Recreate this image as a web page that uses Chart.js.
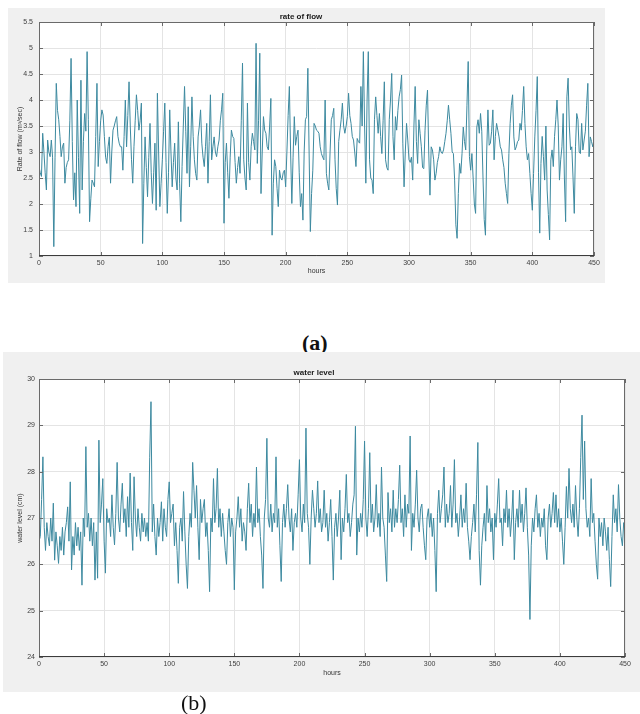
<!DOCTYPE html>
<html>
<head>
<meta charset="utf-8">
<title>rate of flow / water level</title>
<script src="https://cdn.jsdelivr.net/npm/chart.js@4.4.0/dist/chart.umd.min.js"></script>
<style>
  html, body { margin: 0; padding: 0; background: #fff; }
  body { position: relative; width: 640px; height: 714px; overflow: hidden; font-family: "Liberation Sans", Arial, sans-serif; }
  .panel { position: absolute; background: #f0f0f0; }
  .panel canvas { display: block; }
  .cap { position: absolute; font-family: "Liberation Serif", "DejaVu Serif", serif; font-size: 22px; color: #111; line-height: 22px; }
</style>
</head>
<body>
<div class="panel" style="left:8px; top:8px; width:597px; height:275px;">
  <canvas id="flowChart" width="597" height="275"></canvas>
</div>
<div class="cap" style="left:302px; top:332px; font-weight:bold;">(a)</div>
<div class="panel" style="left:3px; top:352px; width:637px; height:340px;">
  <canvas id="levelChart" width="637" height="340"></canvas>
</div>
<div class="cap" style="left:181px; top:692px;">(b)</div>

<script>
// hourly values
const flowRate = [
  2.72,2.6,2.53,3.36,3.0,2.6,2.27,3.23,3.0,2.91,
  3.23,2.9,1.18,2.9,4.32,3.8,3.62,3.3,2.91,3.1,
  3.17,2.4,2.7,2.8,2.85,3.6,4.8,3.2,2.08,2.6,
  1.95,4.0,2.9,1.82,4.38,2.27,3.2,3.74,3.4,4.93,
  3.62,1.66,2.1,2.46,2.4,2.33,3.3,4.32,2.72,3.2,
  3.6,3.81,3.71,3.3,2.9,2.78,3.1,3.29,2.4,3.0,
  3.42,3.5,3.6,3.68,3.3,3.17,3.1,3.1,2.65,3.3,
  4.0,3.1,3.7,4.35,3.5,2.85,2.4,3.1,3.6,4.1,
  3.8,3.42,3.6,3.94,1.24,2.4,3.29,2.7,2.14,2.9,
  3.55,2.6,2.01,2.6,3.17,1.88,4.13,3.0,1.95,2.4,
  2.85,3.4,3.94,2.8,1.82,2.6,3.81,3.0,2.33,2.8,
  3.17,2.5,2.27,3.58,2.4,1.66,2.72,3.5,4.26,3.4,
  2.59,3.87,2.33,3.1,4.06,3.3,2.85,2.59,2.46,3.29,
  3.5,3.81,3.17,2.9,2.72,3.1,3.55,2.4,3.2,4.1,
  2.85,3.1,3.29,3.0,2.91,3.1,3.23,3.6,3.81,4.13,
  1.63,
  2.8,3.17,2.6,2.11,2.9,3.42,3.3,3.26,2.8,2.4,
  2.7,2.91,2.59,3.6,4.71,2.85,2.5,2.27,3.94,2.8,
  2.46,3.1,3.36,3.2,3.04,5.09,2.78,3.6,4.9,2.2,
  3.0,3.68,3.42,3.36,3.1,3.04,3.5,4.03,1.4,2.4,
  2.85,2.72,2.3,1.95,2.65,2.5,2.46,2.6,2.65,2.33,
  3.0,3.7,4.26,3.0,2.01,2.9,3.68,3.13,3.3,3.42,
  2.6,1.95,2.2,1.69,3.0,3.62,3.68,4.61,3.0,1.47,
  2.2,2.65,3.55,3.5,3.42,3.4,3.36,3.1,2.97,2.9,
  2.85,4.0,2.59,2.4,2.27,3.0,3.62,3.7,3.84,2.85,
  2.3,1.98,3.2,3.42,3.62,3.94,3.5,3.36,3.5,3.68,
  4.13,3.7,3.55,3.3,3.23,3.0,2.72,3.26,3.2,3.17,
  4.26,3.5,4.93,3.5,2.4,4.0,4.93,2.85,2.5,2.46,
  2.2,3.62,4.06,3.7,3.36,3.74,3.3,2.97,3.6,4.35,
  2.85,2.7,2.65,3.62,4.0,4.51,3.3,2.85,3.68,3.42,
  3.8,4.06,4.2,4.48,3.17,2.33,3.0,3.55,3.23,2.85,
  2.8,2.9,2.46,3.5,4.26,3.2,2.78,3.62,3.36,3.1,
  2.7,2.68,3.42,3.9,4.19,3.0,2.17,3.1,3.04,2.85,
  2.46,2.59,2.8,2.91,3.1,3.0,2.97,3.04,3.2,3.36,
  3.6,3.9,3.62,3.36,3.0,2.97,2.46,1.6,1.34,2.2,
  2.78,2.59,2.97,3.48,3.2,3.04,3.9,4.74,2.91,2.65,
  2.97,2.5,2.0,1.82,3.48,3.62,3.36,3.74,3.4,2.5,
  1.7,1.4,3.0,3.81,3.13,3.17,3.4,3.81,2.85,3.3,
  3.55,3.42,3.29,3.1,3.04,2.85,2.7,2.4,2.2,2.01,
  2.97,3.55,3.9,4.1,3.29,3.04,3.1,3.2,3.23,3.55,
  3.42,3.8,4.26,3.55,3.1,2.85,2.97,2.59,2.2,1.88,
  2.59,3.29,3.8,4.45,2.6,1.44,2.78,3.3,2.91,2.46,
  3.5,2.27,1.8,1.31,2.85,3.04,2.72,3.3,3.62,4.0,
  3.5,2.46,2.85,3.1,3.74,2.5,1.66,4.06,4.42,3.5,
  3.04,3.1,2.5,1.82,3.1,3.74,3.62,3.0,2.97,3.55,
  3.04,3.23,3.4,3.9,4.32,2.91,3.29,3.2,3.1,3.23
];

const waterLevel = [
  26.5,26.6,27.4,28.32,26.8,26.3,26.9,26.6,26.4,27.0,
  26.5,27.32,26.09,26.7,26.4,26.02,26.6,26.3,26.8,26.2,
  26.7,26.9,27.24,26.5,27.78,25.88,26.6,26.2,26.9,26.4,
  26.8,26.3,26.7,25.55,27.0,26.6,28.54,26.8,27.1,26.5,
  27.0,26.4,26.9,25.66,26.7,25.7,28.68,26.9,27.3,27.85,
  26.5,25.81,27.2,26.9,27.0,26.6,27.5,26.8,26.42,27.1,
  28.2,27.0,26.7,27.3,27.75,26.9,27.2,26.6,27.46,26.8,
  27.97,26.9,26.3,27.89,27.0,26.6,27.2,26.8,26.5,27.1,
  26.7,27.0,26.6,26.9,26.5,28.3,29.51,26.7,27.3,26.6,
  26.2,27.0,26.6,26.9,27.35,26.5,27.2,26.8,26.6,27.4,
  27.78,26.9,27.1,27.3,26.4,26.9,26.3,25.59,26.8,27.0,
  26.5,27.57,26.7,26.0,25.48,26.6,27.1,26.8,28.2,27.6,
  27.0,27.7,26.8,26.1,27.4,26.9,27.2,27.4,26.6,26.9,
  26.3,25.41,27.0,26.7,27.85,26.9,27.2,28.07,26.8,27.2,
  26.6,27.1,26.7,26.3,26.0,26.9,27.2,26.6,27.0,26.8,
  25.45,26.7,27.0,27.46,26.8,27.2,26.5,26.9,26.7,26.3,
  27.2,27.75,26.9,27.3,26.6,27.1,26.8,28.1,26.9,27.2,
  26.6,26.2,25.48,27.0,27.4,28.72,27.0,26.8,27.3,26.7,
  27.1,26.9,28.32,26.8,27.2,26.4,25.63,26.9,27.3,26.8,
  27.2,27.72,27.0,26.7,27.2,26.3,26.9,27.1,26.8,27.5,
  28.26,27.0,26.7,27.3,26.9,28.94,27.1,26.8,26.0,27.0,
  27.6,27.2,26.8,27.1,27.8,26.9,27.2,26.7,26.9,27.6,
  26.8,27.1,26.5,26.9,27.4,26.6,25.66,26.8,27.1,26.6,
  27.0,27.6,26.1,27.0,26.7,27.2,27.94,26.9,27.1,26.6,
  26.9,27.3,27.5,28.98,26.2,27.0,26.7,27.1,26.8,27.4,
  28.66,27.0,26.6,27.2,28.41,26.9,27.3,26.7,27.0,27.72,
  26.8,27.1,26.6,28.1,27.0,26.8,26.2,25.63,27.55,26.9,
  27.2,26.7,27.6,26.8,27.2,26.9,27.4,28.14,26.9,27.2,
  26.6,27.5,26.8,27.3,27.1,28.77,26.3,27.1,26.8,27.3,
  28.03,27.0,26.7,27.2,27.3,26.8,26.4,26.1,27.0,27.2,
  26.8,27.1,26.6,27.0,26.3,25.41,27.1,27.6,26.9,27.2,
  27.5,28.1,26.8,27.3,26.9,27.1,27.7,26.8,27.3,28.26,
  26.9,27.1,26.6,27.0,27.5,26.8,27.2,26.9,27.75,26.8,
  26.5,26.1,26.6,26.9,27.3,26.7,27.5,28.63,26.3,25.55,
  26.4,26.8,27.1,26.5,27.7,26.9,27.2,26.7,27.0,26.1,
  27.1,26.8,27.3,27.85,26.9,27.0,26.4,27.2,26.9,27.6,
  26.8,27.2,26.6,27.0,27.6,26.1,26.9,27.2,26.8,27.6,
  26.9,27.3,26.7,27.1,27.65,26.8,26.2,24.81,26.4,27.0,
  26.7,27.2,27.5,26.8,27.1,26.6,27.0,26.8,27.2,26.4,
  26.1,27.0,27.3,26.8,27.1,27.55,26.9,27.5,26.8,27.2,
  26.7,27.0,26.5,26.0,26.8,27.68,27.0,28.07,27.2,26.9,
  27.3,26.8,27.7,27.0,26.6,27.2,28.3,29.22,27.4,28.66,
  27.2,26.8,27.0,26.6,27.85,26.9,27.1,26.5,26.0,25.68,
  27.0,26.6,26.9,26.4,27.0,26.7,26.3,26.8,26.1,25.52,
  26.6,27.5,26.9,27.2,26.7,27.72,27.0,26.6,26.4,26.9,26.7
];

const hourTicks  = [0, 50, 100, 150, 200, 250, 300, 350, 400, 450];
const flowTicks  = [1, 1.5, 2, 2.5, 3, 3.5, 4, 4.5, 5, 5.5];
const levelTicks = [24, 25, 26, 27, 28, 29, 30];

const FONT = '"Liberation Sans", Arial, sans-serif';
const LINE = '#3d8aa0';

// white axes face, then MATLAB-like box with inward ticks
const axesFace = {
  id: 'axesFace',
  beforeDraw(chart) {
    const { ctx, chartArea: a } = chart;
    ctx.save();
    ctx.fillStyle = '#fff';
    ctx.fillRect(a.left, a.top, a.width, a.height);
    ctx.restore();
  },
  afterDatasetsDraw(chart) {
    const { ctx, chartArea: a, scales: { x, y } } = chart;
    ctx.save();
    ctx.strokeStyle = '#6a6a6a';
    ctx.lineWidth = 1;
    ctx.strokeRect(Math.round(a.left) + 0.5, Math.round(a.top) + 0.5, Math.round(a.width) - 1, Math.round(a.height) - 1);
    ctx.beginPath();
    x.ticks.forEach(t => {
      const px = Math.round(x.getPixelForValue(t.value)) + 0.5;
      ctx.moveTo(px, a.bottom); ctx.lineTo(px, a.bottom - 4);
      ctx.moveTo(px, a.top); ctx.lineTo(px, a.top + 4);
    });
    y.ticks.forEach(t => {
      const py = Math.round(y.getPixelForValue(t.value)) + 0.5;
      ctx.moveTo(a.left, py); ctx.lineTo(a.left + 4, py);
      ctx.moveTo(a.right, py); ctx.lineTo(a.right - 4, py);
    });
    ctx.stroke();
    ctx.strokeStyle = '#3c3c3c';
    ctx.beginPath();
    ctx.moveTo(a.left, Math.round(a.bottom) - 0.5);
    ctx.lineTo(a.right, Math.round(a.bottom) - 0.5);
    ctx.stroke();
    ctx.restore();
  }
};

function makeChart(id, o) {
  return new Chart(document.getElementById(id), {
    type: 'line',
    data: {
      datasets: [{
        data: o.values.map((v, i) => ({ x: i, y: v })),
        borderColor: LINE,
        borderWidth: 1,
        pointRadius: 0,
        tension: 0,
        fill: false
      }]
    },
    options: {
      responsive: false,
      animation: false,
      devicePixelRatio: 1,
      layout: { padding: { left: 0, right: o.padRight, top: 0, bottom: 0 } },
      plugins: {
        legend: { display: false },
        tooltip: { enabled: false },
        title: {
          display: true,
          text: o.title,
          color: '#1a1a1a',
          font: { family: FONT, size: 8, weight: 'bold' },
          padding: o.titlePad
        }
      },
      scales: {
        x: {
          type: 'linear',
          min: 0, max: 450,
          afterBuildTicks: s => { s.ticks = hourTicks.map(v => ({ value: v })); },
          afterFit: s => { s.height = o.xHeight; },
          grid: { color: '#e4e4e4', drawTicks: false },
          border: { display: false },
          ticks: { color: '#404040', font: { family: FONT, size: 7 }, padding: 3, maxRotation: 0, callback: v => String(v) },
          title: { display: true, text: 'hours', color: '#333', font: { family: FONT, size: 7 }, padding: { top: 0, bottom: o.xTitlePad } }
        },
        y: {
          min: o.yTicks[0], max: o.yTicks[o.yTicks.length - 1],
          afterBuildTicks: s => { s.ticks = o.yTicks.map(v => ({ value: v })); },
          afterFit: s => { s.width = o.yWidth; },
          grid: { color: '#e4e4e4', drawTicks: false },
          border: { display: false },
          ticks: { color: '#404040', font: { family: FONT, size: 7 }, padding: o.yTickPad, callback: v => String(v) },
          title: { display: true, text: o.yTitle, color: '#333', font: { family: FONT, size: 7 }, padding: { top: o.yTitlePad, bottom: 0 } }
        }
      }
    },
    plugins: [axesFace]
  });
}

makeChart('flowChart', {
  values: flowRate,
  title: 'rate of flow',
  titlePad: { top: 4.2, bottom: 0.2 },
  padRight: 11,
  xHeight: 27,
  xTitlePad: 8,
  yWidth: 31,
  yTickPad: 6,
  yTicks: flowTicks,
  yTitle: 'Rate of flow (m³/sec)',
  yTitlePad: 7.8
});

makeChart('levelChart', {
  values: waterLevel,
  title: 'water level',
  titlePad: { top: 16.2, bottom: 1.2 },
  padRight: 15,
  xHeight: 35,
  xTitlePad: 14.8,
  yWidth: 36,
  yTickPad: 4,
  yTicks: levelTicks,
  yTitle: 'water level (cm)',
  yTitlePad: 12.8
});
</script>
</body>
</html>
